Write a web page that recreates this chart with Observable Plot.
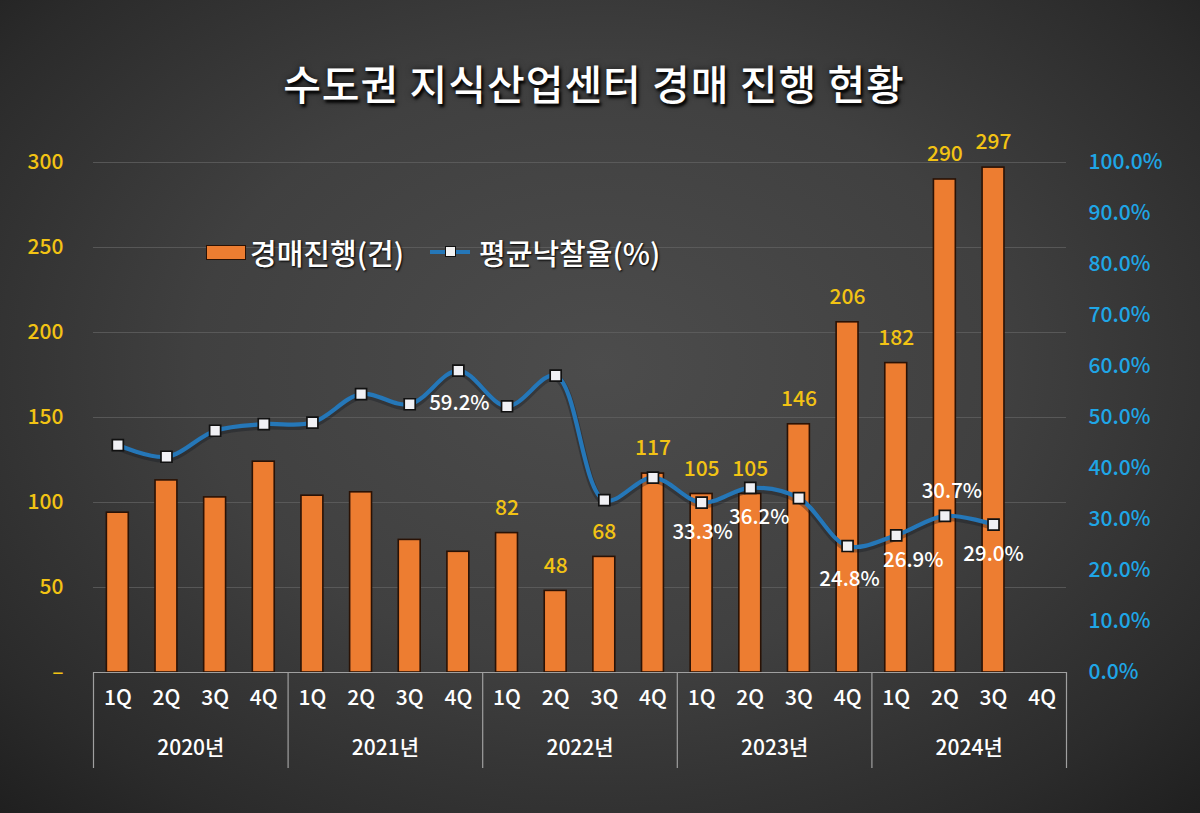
<!DOCTYPE html>
<html><head><meta charset="utf-8">
<script src="https://cdn.jsdelivr.net/npm/d3@7"></script>
<script src="https://cdn.jsdelivr.net/npm/@observablehq/plot@0.6"></script>
<style>
html,body{margin:0;padding:0;background:#222;}
#wrap{position:relative;width:1200px;height:813px;overflow:hidden;
 background:radial-gradient(ellipse 75% 80% at 50% 45%, #4c4c4c 0%, #404040 45%, #2b2b2b 80%, #1c1c1c 100%);
 font-family:"Noto Sans CJK KR","Noto Sans",sans-serif;}
#title{height:130px;box-sizing:border-box;padding-top:55px;text-align:center;color:#fff;font-size:41px;font-weight:500;line-height:54px;
 text-shadow:2px 3px 3px #000, 0 0 6px rgba(0,0,0,.6);letter-spacing:1px;margin-left:-12px;}
#legend{position:absolute;left:206px;top:234px;height:36px;display:flex;align-items:center;color:#fff;font-size:29px;font-weight:500;text-shadow:1px 1px 2px #000;}
.sw-bar{width:38px;height:13px;background:#ed7d31;border:1.5px solid #2a1205;margin-right:4px;}
.sw-line{position:relative;width:40px;height:4px;background:#2577b8;margin-left:26px;margin-right:9px;}
.sw-line i{position:absolute;left:15px;top:-4px;width:9px;height:9px;background:#f2f2f2;border:1.5px solid #111;}
svg text.shadow{text-shadow:1px 1px 2px rgba(0,0,0,.8);}
</style></head>
<body><div id="wrap"><div id="title">수도권 지식산업센터 경매 진행 현황</div>
<div id="legend"><div class="sw-bar"></div><span>경매진행(건)</span><div class="sw-line"><i></i></div><span>평균낙찰율(%)</span></div>
<div id="chart"></div></div>
<script>
const years = ["2020년","2021년","2022년","2023년","2024년"];
const quarters = ["1Q","2Q","3Q","4Q"];
const auctionCounts = [94,113,103,124, 104,106,78,71, 82,48,68,117, 105,105,146,206, 182,290,297,null];
const avgRates = [44.6,42.3,47.4,48.7, 49.0,54.6,52.6,59.2, 52.2,58.2,33.8,38.2, 33.3,36.2,34.2,24.8, 26.9,30.7,29.0,null];
const countTicks = [0,50,100,150,200,250,300];
const rateTicks = [0,10,20,30,40,50,60,70,80,90,100];
const countLabelKeys = ["2022년 1Q","2022년 2Q","2022년 3Q","2022년 4Q","2023년 1Q","2023년 2Q","2023년 3Q","2023년 4Q","2024년 1Q","2024년 2Q","2024년 3Q"];
const rateLabelKeys = ["2021년 4Q","2023년 1Q","2023년 2Q","2023년 4Q","2024년 1Q","2024년 2Q","2024년 3Q"];

const keys = years.flatMap(y => quarters.map(q => `${y} ${q}`));
const data = keys.map((k, i) => ({key: k, count: auctionCounts[i], rate: avgRates[i]}));
const RATIO = 300 / 100; // right axis 100% aligns with left axis 300

const W = 1200, H = 683, mL = 93, mR = 134, mT = 32, mB = 141;
const step = (W - mL - mR) / keys.length;
const gold = "#f2c314", blue = "#1fa6e6", orange = "#ed7d31";

// label placement (style only)
const labelOffset = {
  "2021년 4Q": [1, 33], "2023년 1Q": [1, 30], "2023년 2Q": [9, 30], "2023년 4Q": [2, 33],
  "2024년 1Q": [17, 25], "2024년 2Q": [7, -24], "2024년 3Q": [0, 30]
};
const rateLabelMarks = rateLabelKeys.map(k => Plot.text(data.filter(d => d.key === k), {
  x: "key", y: d => d.rate * RATIO, text: d => d.rate.toFixed(1) + "%",
  dx: labelOffset[k][0], dy: labelOffset[k][1], fill: "#fff", fontSize: 20.5, fontWeight: 500, className: "shadow"
}));

const chart = Plot.plot({
  width: W, height: H, marginLeft: mL, marginRight: mR, marginTop: mT, marginBottom: mB,
  style: {background: "transparent", fontFamily: "'Noto Sans CJK KR','Noto Sans',sans-serif", overflow: "visible"},
  x: {type: "band", domain: keys, paddingInner: 0.55, paddingOuter: 0.275, round: false, label: null},
  y: {domain: [0, 300], label: null},
  marks: [
    Plot.ruleY(countTicks.filter(d => d > 0), {stroke: "#626262", strokeWidth: 1, strokeOpacity: 0.75}),
    Plot.barY(data.filter(d => d.count != null), {x: "key", y: "count", fill: orange, stroke: "#2a1205", strokeWidth: 1.6}),
    Plot.ruleY([0], {stroke: "#a0a0a0", strokeWidth: 1.2}),
    Plot.line(data.filter(d => d.rate != null), {x: "key", y: d => d.rate * RATIO, stroke: "#101820", strokeWidth: 7, strokeOpacity: 0.35, curve: "catmull-rom", dy: 2}),
    Plot.line(data.filter(d => d.rate != null), {x: "key", y: d => d.rate * RATIO, stroke: "#2577b8", strokeWidth: 4.2, curve: "catmull-rom"}),
    Plot.dot(data.filter(d => d.rate != null), {x: "key", y: d => d.rate * RATIO, symbol: "square", r: 6.2, fill: "#f0f0f4", stroke: "#111", strokeWidth: 1.7}),
    Plot.text(data.filter(d => countLabelKeys.includes(d.key)), {x: "key", y: "count", text: d => String(d.count), dy: -25, fill: gold, fontSize: 21, fontWeight: 500}),
    ...rateLabelMarks,
    Plot.axisY({anchor: "left", ticks: countTicks, tickFormat: d => d === 0 ? "–" : String(d), tickSize: 0, tickPadding: 30, color: gold, fontSize: 21, fontWeight: 500, label: null}),
    Plot.axisY({anchor: "right", ticks: rateTicks.map(d => d * RATIO), tickFormat: d => (d / RATIO).toFixed(1) + "%", tickSize: 0, tickPadding: 22, color: blue, fontSize: 21, fontWeight: 500, label: null}),
    Plot.axisX({anchor: "bottom", ticks: keys, tickFormat: k => k.split(" ")[1], tickSize: 0, tickPadding: 18, color: "#fff", fontSize: 21, fontWeight: 500, label: null}),
    Plot.axisX({anchor: "bottom", ticks: years.map(y => `${y} 2Q`), tickFormat: k => k.split(" ")[0], tickSize: 0, tickPadding: 68, dx: step / 2, color: "#fff", fontSize: 21, fontWeight: 500, label: null}),
    Plot.axisX({anchor: "bottom", ticks: years.map(y => `${y} 1Q`), tickFormat: () => "", tickSize: 96, dx: -step / 2, stroke: "#a0a0a0", strokeWidth: 1.2, label: null}),
    Plot.axisX({anchor: "bottom", ticks: [keys[keys.length - 1]], tickFormat: () => "", tickSize: 96, dx: step / 2, stroke: "#a0a0a0", strokeWidth: 1.2, label: null})
  ]
});
document.getElementById("chart").appendChild(chart);
</script></body></html>
